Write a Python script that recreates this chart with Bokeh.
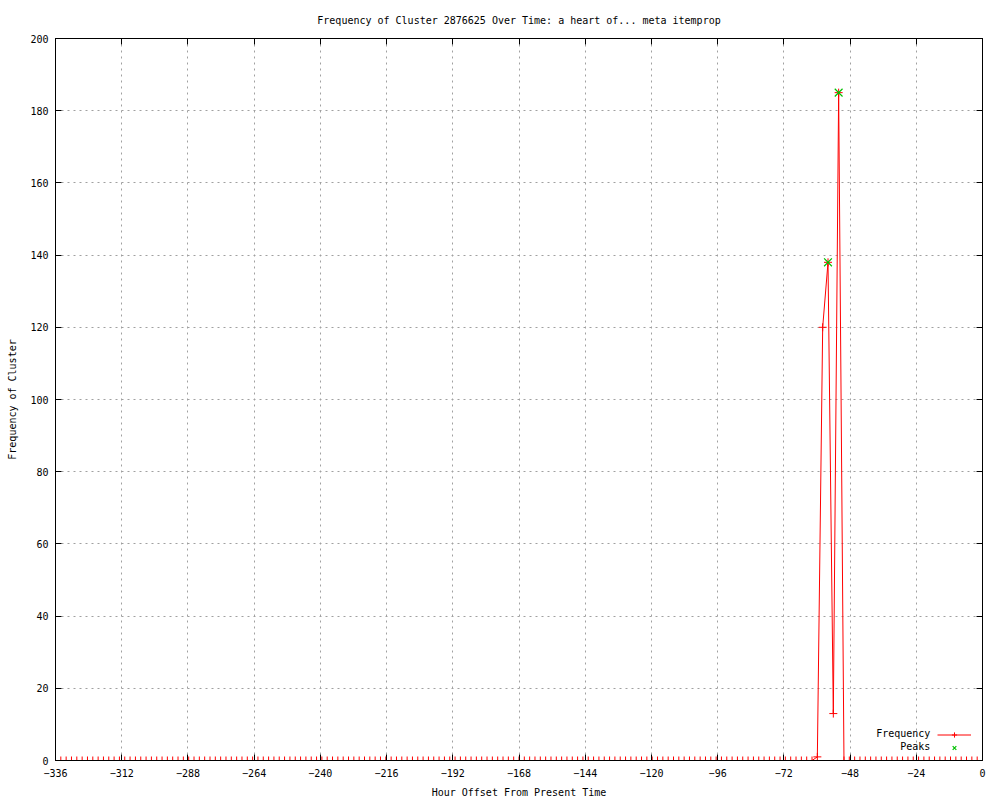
from bokeh.plotting import figure
from bokeh.models import Range1d, LinearAxis, FixedTicker, Legend, LegendItem, Label
from bokeh.embed import file_html
from bokeh.resources import INLINE

title_text = "Frequency of Cluster 2876625 Over Time: a heart of... meta itemprop"
x_label = "Hour Offset From Present Time"
y_label = "Frequency of Cluster"

hours = [
    -336.00, -334.07, -332.14, -330.21, -328.28, -326.34, -324.41, -322.48, -320.55, -318.62,
    -316.69, -314.76, -312.83, -310.90, -308.97, -307.03, -305.10, -303.17, -301.24, -299.31,
    -297.38, -295.45, -293.52, -291.59, -289.66, -287.72, -285.79, -283.86, -281.93, -280.00,
    -278.07, -276.14, -274.21, -272.28, -270.34, -268.41, -266.48, -264.55, -262.62, -260.69,
    -258.76, -256.83, -254.90, -252.97, -251.03, -249.10, -247.17, -245.24, -243.31, -241.38,
    -239.45, -237.52, -235.59, -233.66, -231.72, -229.79, -227.86, -225.93, -224.00, -222.07,
    -220.14, -218.21, -216.28, -214.34, -212.41, -210.48, -208.55, -206.62, -204.69, -202.76,
    -200.83, -198.90, -196.97, -195.03, -193.10, -191.17, -189.24, -187.31, -185.38, -183.45,
    -181.52, -179.59, -177.66, -175.72, -173.79, -171.86, -169.93, -168.00, -166.07, -164.14,
    -162.21, -160.28, -158.34, -156.41, -154.48, -152.55, -150.62, -148.69, -146.76, -144.83,
    -142.90, -140.97, -139.03, -137.10, -135.17, -133.24, -131.31, -129.38, -127.45, -125.52,
    -123.59, -121.66, -119.72, -117.79, -115.86, -113.93, -112.00, -110.07, -108.14, -106.21,
    -104.28, -102.34, -100.41, -98.48, -96.55, -94.62, -92.69, -90.76, -88.83, -86.90,
    -84.97, -83.03, -81.10, -79.17, -77.24, -75.31, -73.38, -71.45, -69.52, -67.59,
    -65.66, -63.72, -61.79, -59.86, -57.93, -56.00, -54.07, -52.14, -50.21, -48.28,
    -46.34, -44.41, -42.48, -40.55, -38.62, -36.69, -34.76, -32.83, -30.90, -28.97,
    -27.03, -25.10, -23.17, -21.24, -19.31, -17.38, -15.45, -13.52, -11.59, -9.66,
    -7.72, -5.79, -3.86, -1.93,
]

frequency = [
    0, 0, 0, 0, 0, 0, 0, 0, 0, 0,
    0, 0, 0, 0, 0, 0, 0, 0, 0, 0,
    0, 0, 0, 0, 0, 0, 0, 0, 0, 0,
    0, 0, 0, 0, 0, 0, 0, 0, 0, 0,
    0, 0, 0, 0, 0, 0, 0, 0, 0, 0,
    0, 0, 0, 0, 0, 0, 0, 0, 0, 0,
    0, 0, 0, 0, 0, 0, 0, 0, 0, 0,
    0, 0, 0, 0, 0, 0, 0, 0, 0, 0,
    0, 0, 0, 0, 0, 0, 0, 0, 0, 0,
    0, 0, 0, 0, 0, 0, 0, 0, 0, 0,
    0, 0, 0, 0, 0, 0, 0, 0, 0, 0,
    0, 0, 0, 0, 0, 0, 0, 0, 0, 0,
    0, 0, 0, 0, 0, 0, 0, 0, 0, 0,
    0, 0, 0, 0, 0, 0, 0, 0, 0, 0,
    0, 0, 0, 1, 120, 138, 13, 185, 0, 0,
    0, 0, 0, 0, 0, 0, 0, 0, 0, 0,
    0, 0, 0, 0, 0, 0, 0, 0, 0, 0,
    0, 0, 0, 0,
]

peak_hours = [-56.00, -52.14]
peak_values = [138, 185]

x_ticks = [-336, -312, -288, -264, -240, -216, -192, -168, -144, -120, -96, -72, -48, -24, 0]
y_ticks = [0, 20, 40, 60, 80, 100, 120, 140, 160, 180, 200]

FONT = "DejaVu Sans Mono"
FS = "10px"

p = figure(
    width=1000, height=800,
    x_range=Range1d(-336, 0), y_range=Range1d(0, 200),
    output_backend="svg", toolbar_location=None,
    min_border_left=55, min_border_right=18, min_border_top=38, min_border_bottom=40,
    title=title_text,
)
p.background_fill_color = "white"
p.border_fill_color = "white"
p.outline_line_color = "black"
p.outline_line_width = 1

p.title.text_font = FONT
p.title.text_font_size = FS
p.title.text_font_style = "normal"
p.title.text_color = "black"
p.title.align = "center"
p.title.offset = 0
p.title.standoff = 25

for ax, ticks in ((p.xaxis[0], x_ticks), (p.yaxis[0], y_ticks)):
    ax.ticker = FixedTicker(ticks=ticks)
    ax.major_tick_in = 6
    ax.major_tick_out = 0
    ax.minor_tick_in = 0
    ax.minor_tick_out = 0
    ax.axis_line_color = "black"
    ax.major_tick_line_color = "black"
    ax.major_label_text_font = FONT
    ax.major_label_text_font_size = FS
    ax.major_label_text_color = "black"
    ax.axis_label_text_font = FONT
    ax.axis_label_text_font_size = FS
    ax.axis_label_text_font_style = "normal"
    ax.axis_label_text_color = "black"

p.xaxis[0].axis_label = x_label
p.xaxis[0].major_label_standoff = 8
p.xaxis[0].axis_label_standoff = 7
p.yaxis[0].axis_label = y_label
p.yaxis[0].major_label_standoff = 7
p.yaxis[0].axis_label_standoff = 9

# mirror ticks on top and right (drawn as unlabeled minor ticks)
for loc, ticks in (("above", x_ticks), ("right", y_ticks)):
    m = LinearAxis(ticker=FixedTicker(ticks=[], minor_ticks=ticks))
    m.major_tick_in = 0
    m.major_tick_out = 0
    m.minor_tick_in = 6
    m.minor_tick_out = 0
    m.minor_tick_line_color = "black"
    m.major_label_standoff = 0
    m.axis_label_standoff = 0
    m.axis_line_color = "black"
    p.add_layout(m, loc)

for g, ticks in ((p.xgrid[0], x_ticks), (p.ygrid[0], y_ticks)):
    g.ticker = FixedTicker(ticks=ticks)
    g.grid_line_color = "#a0a0a0"
    g.grid_line_dash = "2 4"
    g.grid_line_width = 1

line_r = p.line(hours, frequency, line_color="#ff0000", line_width=1)
pts_r = p.scatter(hours, frequency, marker="cross", size=8, line_color="#ff0000", line_width=1)
peak_r = p.scatter(peak_hours, peak_values, marker="x", size=11, line_color="#00c000", line_width=1.2)

legend = Legend(
    items=[LegendItem(label=" ", renderers=[line_r, pts_r]), LegendItem(label=" ", renderers=[peak_r])],
    location=(882, 6),
    glyph_width=34, glyph_height=13, label_height=13, label_width=0,
    label_standoff=0, spacing=0, padding=0, margin=0,
    background_fill_alpha=0, border_line_alpha=0,
    label_text_font_size="10px",
)
p.add_layout(legend, "center")

for txt, yv in (("Frequency", 7.5), ("Peaks", 3.9)):
    p.add_layout(Label(x=-18.9, y=yv, text=txt, text_align="right", text_baseline="middle",
                       text_font=FONT, text_font_size=FS, text_color="black"))

open("out.html", "w").write(file_html(p, INLINE))
